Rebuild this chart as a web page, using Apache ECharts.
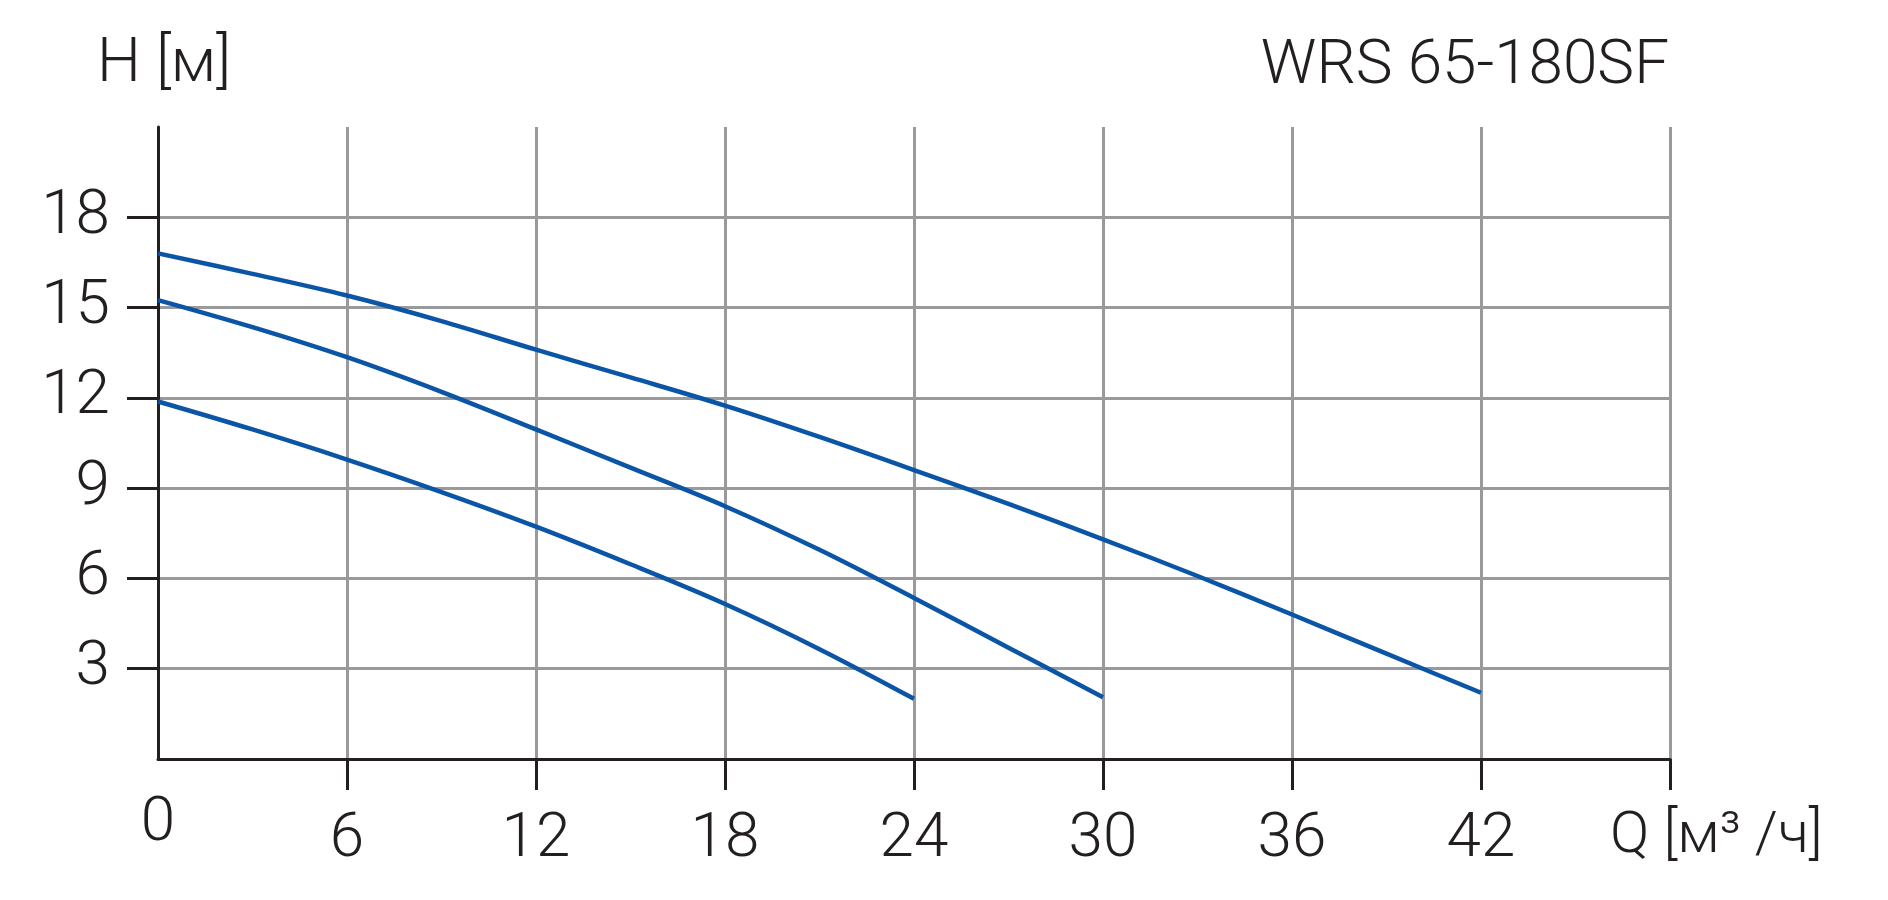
<!DOCTYPE html>
<html>
<head>
<meta charset="utf-8">
<script src="https://cdn.jsdelivr.net/npm/echarts@6/dist/echarts.min.js"></script>
<style>
  html, body { margin: 0; padding: 0; background: #fff; }
  #chart { width: 1888px; height: 900px; }
</style>
</head>
<body>
<div id="chart"></div>
<script>
// ---- data ----
const qTop = [0, 3, 6, 9, 12, 15, 18, 21, 24, 27, 30, 33, 36, 39, 42];
const hTop = [16.8, 16.12, 15.4, 14.55, 13.6, 12.68, 11.74, 10.7, 9.6, 8.48, 7.3, 6.08, 4.8, 3.5, 2.2];

const qMid = [0, 3, 6, 9, 12, 15, 18, 21, 24, 27, 30];
const hMid = [15.25, 14.35, 13.35, 12.2, 10.95, 9.68, 8.4, 6.95, 5.35, 3.7, 2.05];

const qLow = [0, 3, 6, 9, 12, 15, 18, 21, 24];
const hLow = [11.88, 10.95, 9.95, 8.87, 7.72, 6.47, 5.15, 3.65, 2.0];

const xTickLabels = [0, 6, 12, 18, 24, 30, 36, 42];
const xTickMarks = [6, 12, 18, 24, 30, 36, 42, 48];
const yTickLabels = [3, 6, 9, 12, 15, 18];

const modelName = 'WRS 65-180SF';
const yName = 'H [м]';
const xName = 'Q [м³ /ч]';

// ---- chart ----
const TXT = '#231f20';
const GRID = '#9a9a9c';
const BLUE = '#0b55a6';
const FONT = 'Roboto';
const FW = 300;

function pairs(q, h) { return q.map((v, i) => [v, h[i]]); }

const chart = echarts.init(document.getElementById('chart'), null, { renderer: 'canvas' });

const lineSeries = [[qTop, hTop], [qMid, hMid], [qLow, hLow]].map(([q, h]) => ({
  type: 'line',
  data: pairs(q, h),
  smooth: 0.35,
  symbol: 'none',
  lineStyle: { color: BLUE, width: 4.5, cap: 'butt' },
  z: 5
}));

chart.setOption({
  animation: false,
  backgroundColor: '#ffffff',
  grid: { left: 158, right: 218, top: 127, bottom: 141, containLabel: false },
  xAxis: {
    type: 'value', min: 0, max: 48, interval: 6,
    axisLine: { show: true, onZero: false, lineStyle: { color: TXT, width: 3 } },
    axisTick: { show: true, length: 31, inside: false, customValues: xTickMarks, lineStyle: { color: TXT, width: 3 } },
    axisLabel: {
      customValues: xTickLabels,
      margin: 50,
      color: TXT, fontFamily: FONT, fontSize: 62, fontWeight: FW,
      formatter: v => v === 0 ? '{z|0}' : String(v),
      rich: { z: { fontFamily: FONT, fontSize: 62, fontWeight: FW, color: TXT, lineHeight: 30 } }
    },
    splitLine: { show: true, lineStyle: { color: GRID, width: 3 } }
  },
  yAxis: {
    type: 'value', min: 0, max: 21, interval: 3,
    axisLine: { show: true, onZero: false, lineStyle: { color: TXT, width: 3 } },
    axisTick: { show: true, length: 31, inside: false, customValues: yTickLabels, lineStyle: { color: TXT, width: 3 } },
    axisLabel: {
      customValues: yTickLabels,
      margin: 48,
      color: TXT, fontFamily: FONT, fontSize: 62, fontWeight: FW
    },
    splitLine: { show: true, lineStyle: { color: GRID, width: 3 } }
  },
  graphic: [
    {
      type: 'text', left: 97, top: 34, z: 10,
      style: { text: yName, fontFamily: FONT, fontSize: 62, fontWeight: FW, fill: TXT }
    },
    {
      type: 'text', right: 219, top: 36, z: 10,
      style: { text: modelName, fontFamily: FONT, fontSize: 62, fontWeight: FW, fill: TXT }
    },
    {
      type: 'text', left: 1610, top: 808, z: 10,
      style: { text: xName, fontFamily: FONT, fontSize: 58, fontWeight: FW, fill: TXT }
    }
  ],
  series: lineSeries
});
</script>
</body>
</html>
